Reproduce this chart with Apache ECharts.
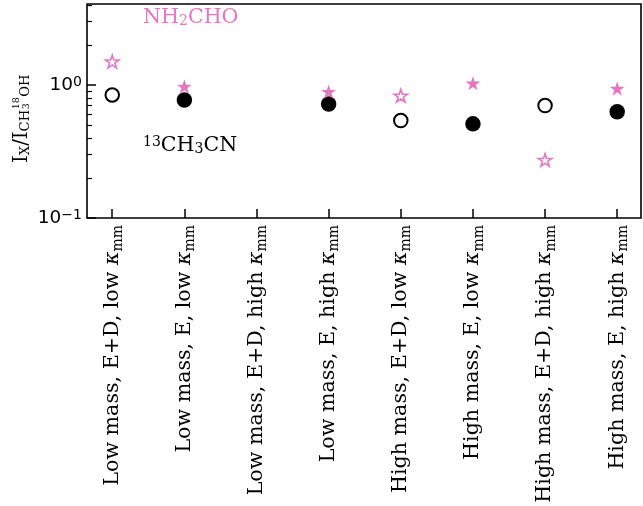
<!DOCTYPE html>
<html><head><meta charset="utf-8">
<script src="https://cdn.jsdelivr.net/npm/echarts@6/dist/echarts.min.js"></script>
<style>html,body{margin:0;padding:0;background:#fff}#c{width:643px;height:506px}</style>
</head><body><div id="c"></div>
<script>
const categories = ['Low mass, E+D, low', 'Low mass, E, low', 'Low mass, E+D, high', 'Low mass, E, high',
  'High mass, E+D, low', 'High mass, E, low', 'High mass, E+D, high', 'High mass, E, high'];
const filledFlags = [false, true, false, true, false, true, false, true];
const ch3cnValues = [0.84, 0.77, null, 0.72, 0.54, 0.51, 0.70, 0.63];
const nh2choValues = [1.50, 0.975, null, 0.89, 0.83, 1.03, 0.273, 0.94];
const yMajorTicks = [0.1, 1];
const yTickExponents = ['\u22121', '0'];
const yMinorTicks = [0.2, 0.3, 0.4, 0.5, 0.6, 0.7, 0.8, 0.9, 2, 3, 4];
const xPositions = categories.map((c, i) => i);

const PINK = '#e377c2';
const SERIF = '"DejaVu Serif", serif';
const SANS = '"DejaVu Sans", sans-serif';
const FS = 20.6;
const SUBFS = 14;

function starPath() {
  const pts = [];
  for (let k = 0; k < 10; k++) {
    const r = k % 2 === 0 ? 100 : 38.2;
    const a = -Math.PI / 2 + k * Math.PI / 5;
    pts.push((r * Math.cos(a)).toFixed(2) + ' ' + (r * Math.sin(a)).toFixed(2));
  }
  return 'path://M' + pts.join(' L') + ' Z';
}
const STAR = starPath();

function buildData(values, color, filledSize, openSize, openBorder) {
  const out = [];
  values.forEach((v, i) => {
    if (v == null) return;
    const f = filledFlags[i];
    out.push({
      value: [xPositions[i], v],
      symbolSize: f ? filledSize : openSize,
      itemStyle: f
        ? { color: color, borderColor: color, borderWidth: 0, opacity: 1 }
        : { color: '#ffffff', borderColor: color, borderWidth: openBorder, opacity: 1 }
    });
  });
  return out;
}

function buildYLabel() {
  const ctx = document.createElement('canvas').getContext('2d');
  const w = (t, s) => { ctx.font = s + 'px ' + SERIF; return ctx.measureText(t).width; };
  const M = 19.7, S = 13.2, SS = 9.5;
  const pieces = [
    { t: 'I', s: M, dy: 0 },
    { t: 'X', s: S, dy: 2 },
    { t: '/I', s: M, dy: 0 },
    { t: 'CH', s: S, dy: 2 },
    { stack: [{ t: '3', s: SS, dy: 2.5 }, { t: '18', s: SS, dy: -7.5 }] },
    { t: 'OH', s: S, dy: 2 }
  ];
  const children = [];
  let x = 0;
  const mk = (p, xx) => ({
    type: 'text', x: xx, y: p.dy + 0.236 * p.s,
    style: { text: p.t, font: p.s + 'px ' + SERIF, fill: '#000', align: 'left', verticalAlign: 'bottom' }
  });
  pieces.forEach(p => {
    if (p.stack) {
      let mx = 0;
      p.stack.forEach(q => { children.push(mk(q, x + 0.5)); mx = Math.max(mx, w(q.t, q.s)); });
      x += mx + 1;
    } else {
      children.push(mk(p, x));
      x += w(p.t, p.s);
    }
  });
  return { type: 'group', x: 27, y: 163, rotation: Math.PI / 2, children: children };
}

const chart = echarts.init(document.getElementById('c'), null, { renderer: 'canvas' });
chart.setOption({
  animation: false,
  backgroundColor: '#fff',
  grid: { left: 87, right: 2, top: 4, bottom: 288, containLabel: false,
    outerBounds: { left: -400, top: -400, right: -400, bottom: -400 },
    show: true, borderColor: '#000', borderWidth: 1.6, backgroundColor: 'transparent' },
  xAxis: {
    type: 'value', min: -0.35, max: 7.33,
    axisLine: { show: false, onZero: false },
    splitLine: { show: false },
    axisTick: { show: true, inside: true, length: 9, lineStyle: { color: '#000', width: 1.5 }, customValues: xPositions },
    axisLabel: {
      customValues: xPositions, rotate: 90, margin: 7,
      fontFamily: SERIF, fontSize: FS, color: '#000',
      formatter: v => categories[Math.round(v)] + ' {k|κ}{sub|mm}',
      rich: {
        k: { fontFamily: SERIF, fontSize: FS, fontStyle: 'italic', color: '#000', lineHeight: 26 },
        sub: { fontFamily: SERIF, fontSize: SUBFS, color: '#000', verticalAlign: 'bottom', lineHeight: 18 }
      }
    }
  },
  yAxis: [{
    type: 'log', logBase: 10, min: 0.1, max: 4.06, position: 'left',
    axisLine: { show: false, onZero: false },
    splitLine: { show: false },
    axisTick: { show: true, inside: true, length: 9, lineStyle: { color: '#000', width: 1.5 }, customValues: yMajorTicks },
    axisLabel: {
      customValues: yMajorTicks, margin: 5, color: '#000',
      fontFamily: SANS, fontSize: 18.5,
      formatter: v => {
        const i = yMajorTicks.findIndex(t => Math.abs(Math.log10(t) - Math.log10(v)) < 1e-6);
        return '10{sup|' + yTickExponents[i] + '}';
      },
      rich: {
        sup: { fontFamily: SANS, fontSize: 14, color: '#000', verticalAlign: 'top', lineHeight: 14 }
      }
    }
  }, {
    type: 'log', logBase: 10, min: 0.1, max: 4.06, position: 'left', offset: 0,
    axisLine: { show: false, onZero: false }, splitLine: { show: false }, axisLabel: { show: false },
    axisTick: { show: true, inside: true, length: 5, lineStyle: { color: '#000', width: 1.2 }, customValues: yMinorTicks }
  }],
  graphic: [
    buildYLabel(),
    { type: 'text', left: 143, top: 7, style: { text: 'NH{sub|2}CHO', fill: PINK, font: FS + 'px ' + SERIF,
      rich: { sub: { fontFamily: SERIF, fontSize: SUBFS, fill: PINK, verticalAlign: 'bottom', lineHeight: 14 } } } },
    { type: 'text', left: 143, top: 135, style: { text: '{sup|13}CH{sub|3}CN', fill: '#000', font: FS + 'px ' + SERIF,
      rich: { sup: { fontFamily: SERIF, fontSize: SUBFS, fill: '#000', verticalAlign: 'top', lineHeight: 14 },
              sub: { fontFamily: SERIF, fontSize: SUBFS, fill: '#000', verticalAlign: 'bottom', lineHeight: 14 } } } }
  ],
  series: [
    { name: '13CH3CN', type: 'scatter', symbol: 'circle', data: buildData(ch3cnValues, '#000', 15.5, 13.5, 2), z: 3 },
    { name: 'NH2CHO', type: 'scatter', symbol: STAR, data: buildData(nh2choValues, PINK, [15, 14.2], [13.5, 12.6], 1.6), z: 4 }
  ]
});
</script>
</body></html>
